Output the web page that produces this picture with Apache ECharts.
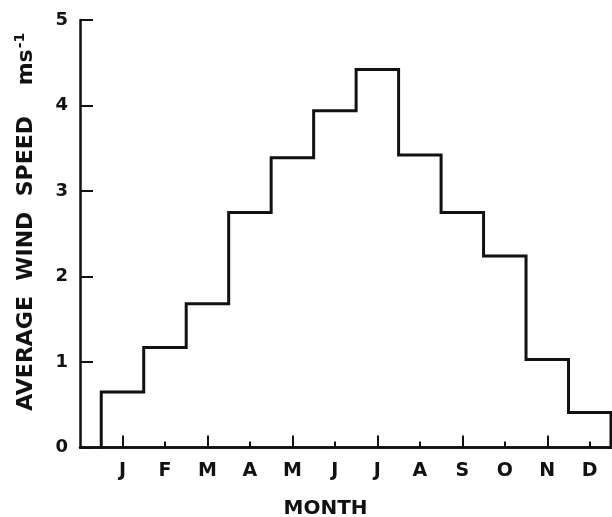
<!DOCTYPE html>
<html>
<head>
<meta charset="utf-8">
<script src="https://cdn.jsdelivr.net/npm/echarts@6/dist/echarts.min.js"></script>
<style>
  html, body { margin: 0; padding: 0; background: #fff; }
  #chart { width: 612px; height: 517px; }
</style>
</head>
<body>
<div id="chart"></div>
<script>
// Monthly mean wind speed (m/s), one value per calendar month
const monthLabels = ['J', 'F', 'M', 'A', 'M', 'J', 'J', 'A', 'S', 'O', 'N', 'D'];
const windSpeed = [0.65, 1.17, 1.68, 2.75, 3.39, 3.94, 4.42, 3.42, 2.75, 2.24, 1.03, 0.41];
const yTicks = [0, 1, 2, 3, 4, 5];

// Month i (1-based) is centred on x = i; each bar of the histogram spans i - 0.5 .. i + 0.5
const monthPos = monthLabels.map((_, i) => i + 1);
const tallTickPos = monthPos.filter(v => v % 2 === 1);
const shortTickPos = monthPos.filter(v => v % 2 === 0);

// Outline of the stepped histogram, closed down to the axis at both ends
const outline = [[monthPos[0] - 0.5, 0]];
windSpeed.forEach((v, i) => {
  outline.push([monthPos[i] - 0.5, v]);
  outline.push([monthPos[i] + 0.5, v]);
});
outline.push([monthPos[monthPos.length - 1] + 0.5, 0]);

const INK = '#111';
const FONT = 'DejaVu Sans';

const chart = echarts.init(document.getElementById('chart'), null, { renderer: 'canvas' });

const baseX = {
  type: 'value',
  position: 'bottom',
  min: 0,
  max: 12.5,
  splitLine: { show: false },
  axisLine: { show: true, onZero: false, lineStyle: { color: INK, width: 2.5 } }
};

chart.setOption({
  animation: false,
  backgroundColor: '#fff',
  grid: { left: 80, right: 1, top: 20, bottom: 69.5, containLabel: false, outerBoundsMode: 'none' },
  xAxis: [
    Object.assign({}, baseX, {
      name: 'MONTH',
      nameLocation: 'middle',
      nameGap: 51,
      nameTextStyle: { color: INK, fontFamily: FONT, fontWeight: 'bold', fontSize: 20, padding: [0, 40, 0, 0] },
      axisTick: { show: true, inside: true, length: 6, customValues: shortTickPos, lineStyle: { color: INK, width: 2 } },
      axisLabel: {
        show: true,
        customValues: monthPos,
        margin: 14,
        color: INK,
        fontFamily: FONT,
        fontWeight: 'bold',
        fontSize: 19,
        formatter: v => monthLabels[Math.round(v) - 1] || ''
      }
    }),
    Object.assign({}, baseX, {
      axisTick: { show: true, inside: true, length: 12, customValues: tallTickPos, lineStyle: { color: INK, width: 2 } },
      axisLabel: { show: false }
    })
  ],
  yAxis: {
    type: 'value',
    min: yTicks[0],
    max: yTicks[yTicks.length - 1],
    interval: 1,
    name: '{t|AVERAGE  WIND  SPEED    ms}{sup|-1}',
    nameLocation: 'middle',
    nameRotate: 90,
    nameGap: 41,
    nameTextStyle: {
      padding: [0, 0, 0, 24],
      rich: {
        t: { color: INK, fontFamily: FONT, fontWeight: 'bold', fontSize: 22 },
        sup: { color: INK, fontFamily: FONT, fontWeight: 'bold', fontSize: 14, verticalAlign: 'top', padding: [0, 0, 12, 1] }
      }
    },
    splitLine: { show: false },
    axisLine: { show: true, onZero: false, lineStyle: { color: INK, width: 2.5 } },
    axisTick: { show: true, inside: true, length: 13, lineStyle: { color: INK, width: 2 } },
    axisLabel: { margin: 12, color: INK, fontFamily: FONT, fontWeight: 'bold', fontSize: 18 }
  },
  series: [{
    type: 'line',
    xAxisIndex: 0,
    data: outline,
    symbol: 'none',
    lineStyle: { color: INK, width: 3, join: 'miter', cap: 'square' },
    z: 5
  }]
});
</script>
</body>
</html>
